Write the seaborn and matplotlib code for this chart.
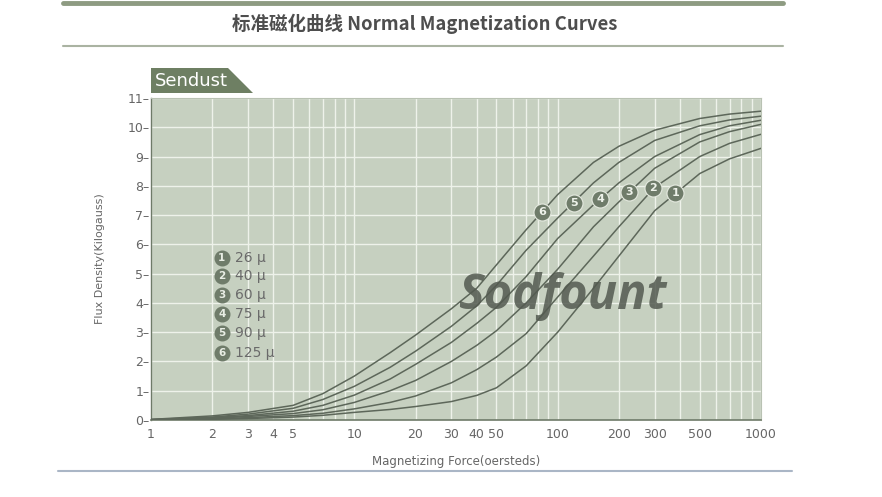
import numpy as np
import pandas as pd
import matplotlib
matplotlib.use("Agg")
import matplotlib.pyplot as plt
from matplotlib.patches import Polygon
from matplotlib.lines import Line2D
from matplotlib.ticker import FixedLocator, NullFormatter
import seaborn as sns

# magnetizing force (oersteds) where the curves were read
H = [1, 2, 3, 5, 7, 10, 15, 20, 30, 40, 50, 70, 100, 150, 200, 300, 500, 700, 1000]

# flux density (kilogauss)
b_26 = [0.003, 0.025, 0.05, 0.1, 0.16, 0.26, 0.36, 0.46, 0.63, 0.84, 1.1, 1.85, 3.0, 4.5, 5.6, 7.15, 8.42, 8.92, 9.28]
b_40 = [0.005, 0.04, 0.08, 0.15, 0.23, 0.38, 0.6, 0.82, 1.27, 1.72, 2.15, 2.95, 4.2, 5.6, 6.6, 7.95, 9.0, 9.45, 9.76]
b_60 = [0.01, 0.06, 0.12, 0.22, 0.35, 0.6, 1.0, 1.35, 2.0, 2.55, 3.05, 4.0, 5.15, 6.6, 7.45, 8.6, 9.5, 9.85, 10.1]
b_75 = [0.012, 0.08, 0.15, 0.3, 0.5, 0.85, 1.4, 1.9, 2.65, 3.3, 3.85, 4.9, 6.2, 7.35, 8.1, 9.0, 9.75, 10.05, 10.24]
b_90 = [0.015, 0.1, 0.2, 0.4, 0.7, 1.15, 1.8, 2.35, 3.2, 3.9, 4.6, 5.8, 6.9, 8.1, 8.8, 9.55, 10.05, 10.25, 10.38]
b_125 = [0.02, 0.14, 0.26, 0.5, 0.9, 1.5, 2.3, 2.9, 3.8, 4.5, 5.3, 6.5, 7.7, 8.8, 9.35, 9.9, 10.3, 10.45, 10.55]

curve_ids = ["1", "2", "3", "4", "5", "6"]
perm_labels = ["26 μ", "40 μ", "60 μ", "75 μ", "90 μ", "125 μ"]
curves = [b_26, b_40, b_60, b_75, b_90, b_125]

# where the numbered markers sit on each curve
label_h = [378, 295, 224, 162, 120, 84]
label_b = [7.75, 7.93, 7.79, 7.55, 7.41, 7.12]

x_ticks = [1, 2, 3, 4, 5, 10, 20, 30, 40, 50, 100, 200, 300, 500, 1000]
y_ticks = list(range(0, 12))

rows = []
for cid, vals in zip(curve_ids, curves):
    for h, b in zip(H, vals):
        rows.append({"H": h, "B": b, "curve": cid})
df = pd.DataFrame(rows)

sns.set_style("white")
plt.rcParams["font.family"] = ["DejaVu Sans"]

bg = "#c6d0c0"
line_col = "#5d675a"
mark_col = "#6f7c6a"
txt_col = "#666666"

fig = plt.figure(figsize=(8.82, 4.97), dpi=100)
ax = fig.add_axes([151 / 882, 1 - 420 / 497, 610 / 882, 322 / 497])
ax.set_facecolor(bg)

sns.lineplot(data=df, x="H", y="B", hue="curve", palette=[line_col] * 6,
             legend=False, linewidth=1.1, ax=ax, zorder=3)

ax.set_xscale("log")
ax.set_xlim(1, 1000)
ax.set_ylim(0, 11)

minor = [m * 10 ** e for e in range(0, 3) for m in range(2, 10)]
ax.xaxis.set_major_locator(FixedLocator(x_ticks))
ax.set_xticklabels([str(t) for t in x_ticks])
ax.xaxis.set_minor_locator(FixedLocator(minor))
ax.xaxis.set_minor_formatter(NullFormatter())
ax.set_yticks(y_ticks)
ax.set_yticklabels([f"{t}–" for t in y_ticks])

ax.grid(True, which="both", axis="x", color="#eef2ea", linewidth=1.0, zorder=0)
ax.grid(True, which="major", axis="y", color="#eef2ea", linewidth=1.0, zorder=0)
ax.set_axisbelow(True)

ax.tick_params(axis="x", which="major", direction="out", length=5, width=0.8,
               color="#777777", labelsize=9, labelcolor=txt_col, pad=1)
ax.tick_params(axis="x", which="minor", length=0)
ax.tick_params(axis="y", length=0, labelsize=9, labelcolor=txt_col, pad=1)

for side in ["top", "right"]:
    ax.spines[side].set_color("#b9c2b3")
    ax.spines[side].set_linewidth(0.8)
ax.spines["left"].set_color("#6e7a68")
ax.spines["left"].set_linewidth(1.0)
ax.spines["bottom"].set_color("#6e7a68")
ax.spines["bottom"].set_linewidth(1.2)

ax.set_xlabel("Magnetizing Force(oersteds)", fontsize=8.5, color=txt_col, labelpad=10)
ax.set_ylabel("Flux Density(Kilogauss)", fontsize=8, color=txt_col, labelpad=16)

# numbered markers on the curves
ax.scatter(label_h, label_b, s=150, color=mark_col, edgecolor="#e4e9df",
           linewidth=0.8, zorder=5)
for cid, h, b in zip(curve_ids, label_h, label_b):
    ax.text(h, b, cid, ha="center", va="center", fontsize=8, fontweight="bold",
            color="#eef2ea", zorder=6)

# permeability key
key_y = [0.503, 0.447, 0.388, 0.329, 0.270, 0.208]
for cid, lab, ky in zip(curve_ids, perm_labels, key_y):
    ax.scatter([0.116], [ky], s=110, color=mark_col, transform=ax.transAxes,
               zorder=5, clip_on=False)
    ax.text(0.116, ky, cid, transform=ax.transAxes, ha="center", va="center",
            fontsize=7.5, fontweight="bold", color="#e8ede4", zorder=6)
    ax.text(0.138, ky, lab, transform=ax.transAxes, ha="left", va="center",
            fontsize=10, color="#6a6a6a", zorder=6)

# watermark
ax.text(0.675, 0.385, "Sodfount", transform=ax.transAxes, ha="center", va="center",
        fontsize=35, fontweight="bold", style="italic", family=["Open Sans", "DejaVu Sans"],
        color="#535a50", alpha=0.85, zorder=4)

# "Sendust" tab above the plot
W, Hh = 882.0, 497.0
tab = [(151, 68), (228, 68), (253, 93), (151, 93)]
fig.patches.append(Polygon([(x / W, 1 - y / Hh) for x, y in tab], closed=True,
                           transform=fig.transFigure, facecolor="#6e7f63",
                           edgecolor="none"))
fig.text(155 / W, 1 - 80.5 / Hh, "Sendust", fontsize=13, color="white",
         ha="left", va="center")

# header rules and title
fig.add_artist(Line2D([63 / W, 783 / W], [1 - 3 / Hh, 1 - 3 / Hh],
                      color="#8e9b82", linewidth=3.5, transform=fig.transFigure))
fig.add_artist(Line2D([63 / W, 783 / W], [1 - 46 / Hh, 1 - 46 / Hh],
                      color="#aab3a2", linewidth=1.5, transform=fig.transFigure))
fig.text(425 / W, 1 - 24 / Hh, "标准磁化曲线 Normal Magnetization Curves",
         fontsize=13.3, fontweight="bold", color="#4e4e4e", ha="center", va="center",
         family=["Noto Sans CJK SC", "DejaVu Sans"])

# bottom edge strip
fig.add_artist(Line2D([58 / W, 792 / W], [1 - 471 / Hh, 1 - 471 / Hh],
                      color="#aab6c6", linewidth=1.5, transform=fig.transFigure))

fig.savefig("out.png", dpi=100, facecolor="white")
